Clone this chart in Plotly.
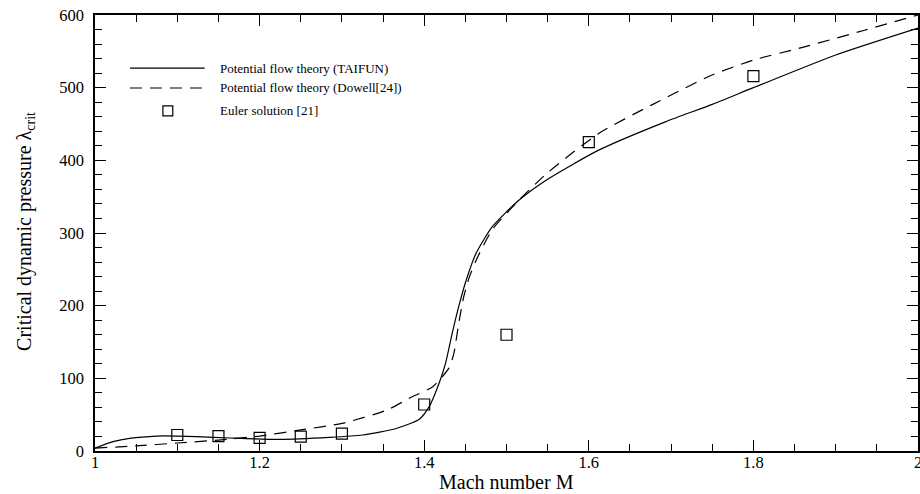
import plotly.graph_objects as go

# TAIFUN potential flow theory (solid)
taifun_M = [1.0, 1.022, 1.042, 1.075, 1.10, 1.123, 1.164, 1.224, 1.285, 1.325, 1.366, 1.394,
            1.406, 1.418, 1.426, 1.434, 1.442, 1.451, 1.463, 1.483, 1.515, 1.55, 1.612, 1.693,
            1.75, 1.8, 1.9, 2.0]
taifun_L = [4, 12.8, 17.4, 20.6, 20.5, 19.7, 17.9, 16, 18.8, 22, 31, 43.6,
            61, 93, 121, 162, 199, 235, 272, 309, 345, 374, 414, 453,
            477, 500, 545, 582]

# Dowell potential flow theory (dashed)
dowell_M = [1.0, 1.05, 1.1, 1.15, 1.2, 1.25, 1.3, 1.354, 1.386, 1.41, 1.43, 1.436, 1.442,
            1.448, 1.455, 1.465, 1.483, 1.515, 1.55, 1.612, 1.676, 1.749, 1.8, 1.855, 1.935, 2.0]
dowell_L = [4, 7, 11, 15, 20.6, 29, 38, 56, 75, 88, 114, 134, 176,
            212, 240, 267, 305, 345, 383, 437, 476, 517, 538, 554, 579, 600]

# Euler solution (squares)
euler_M = [1.1, 1.15, 1.2, 1.25, 1.3, 1.4, 1.5, 1.6, 1.8]
euler_L = [22, 20.6, 18, 19.7, 24, 64, 160, 425, 516]

legend_labels = ["Potential flow theory (TAIFUN)", "Potential flow theory (Dowell[24])", "Euler solution [21]"]
x_title = "Mach number M"
y_title = "Critical dynamic pressure λ<sub>crit</sub>"

FONT = "Liberation Serif"

fig = go.Figure()
fig.add_trace(go.Scatter(x=taifun_M, y=taifun_L, mode="lines", line=dict(color="black", width=1.2, shape="spline", smoothing=0.6),
                         name=legend_labels[0], showlegend=False))
fig.add_trace(go.Scatter(x=dowell_M, y=dowell_L, mode="lines", line=dict(color="black", width=1.2, dash="12px,8px", shape="spline", smoothing=0.6),
                         name=legend_labels[1], showlegend=False))
fig.add_trace(go.Scatter(x=euler_M, y=euler_L, mode="markers",
                         marker=dict(symbol="square-open", size=11, color="black", line=dict(width=1.2, color="black")),
                         name=legend_labels[2], showlegend=False))

# manual legend (paper coordinates)
ly = [0.878, 0.8326, 0.780]
fig.add_shape(type="line", xref="paper", yref="paper", x0=0.0424, x1=0.1333, y0=ly[0], y1=ly[0],
              line=dict(color="black", width=1.2))
fig.add_shape(type="line", xref="paper", yref="paper", x0=0.0424, x1=0.1333, y0=ly[1], y1=ly[1],
              line=dict(color="black", width=1.2, dash="12px,8px"))
fig.add_shape(type="rect", xref="paper", yref="paper", x0=0.0885 - 0.006, x1=0.0885 + 0.006,
              y0=ly[2] - 0.0115, y1=ly[2] + 0.0115, line=dict(color="black", width=1.2))
for lab, yy in zip(legend_labels, ly):
    fig.add_annotation(xref="paper", yref="paper", x=0.149, y=yy, text=lab, showarrow=False,
                       xanchor="left", yanchor="middle", font=dict(family=FONT, size=13, color="black"))

axis_common = dict(showgrid=False, zeroline=False, showline=True, linecolor="black", linewidth=1.5,
                   ticks="inside", tickcolor="black", tickwidth=1, mirror="ticks",
                   tickfont=dict(family=FONT, size=16.5, color="black"))

fig.update_xaxes(range=[1, 2], dtick=0.2, tick0=1, ticklen=11, ticklabelstandoff=-5,
                 minor=dict(dtick=0.05, ticks="inside", ticklen=7, tickcolor="black", tickwidth=1),
                 **axis_common)
fig.update_yaxes(range=[0, 600], dtick=100, tick0=0, ticklen=11, ticklabelstandoff=6,
                 minor=dict(dtick=20, ticks="inside", ticklen=7, tickcolor="black", tickwidth=1),
                 **axis_common)

# axis titles
fig.add_annotation(xref="paper", yref="paper", x=0.5, y=-0.0711, text=x_title, showarrow=False,
                   xanchor="center", yanchor="middle", font=dict(family=FONT, size=20, color="black"))
fig.add_annotation(xref="paper", yref="paper", x=-0.0848, y=0.503, text=y_title, showarrow=False,
                   textangle=-90, xanchor="center", yanchor="middle", font=dict(family=FONT, size=20, color="black"))

# the last x tick label ("2") sits at the window edge and is partly cut off
fig.add_annotation(x=2, y=0, xref="x", yref="y", yshift=0, text="2", showarrow=False,
                   xanchor="center", yanchor="top", font=dict(family=FONT, size=16.5, color="black"))

fig.update_layout(width=920, height=494, margin=dict(l=95, r=0, t=15, b=43),
                  plot_bgcolor="white", paper_bgcolor="white", showlegend=False,
                  font=dict(family=FONT))

fig.write_html("out.html")
